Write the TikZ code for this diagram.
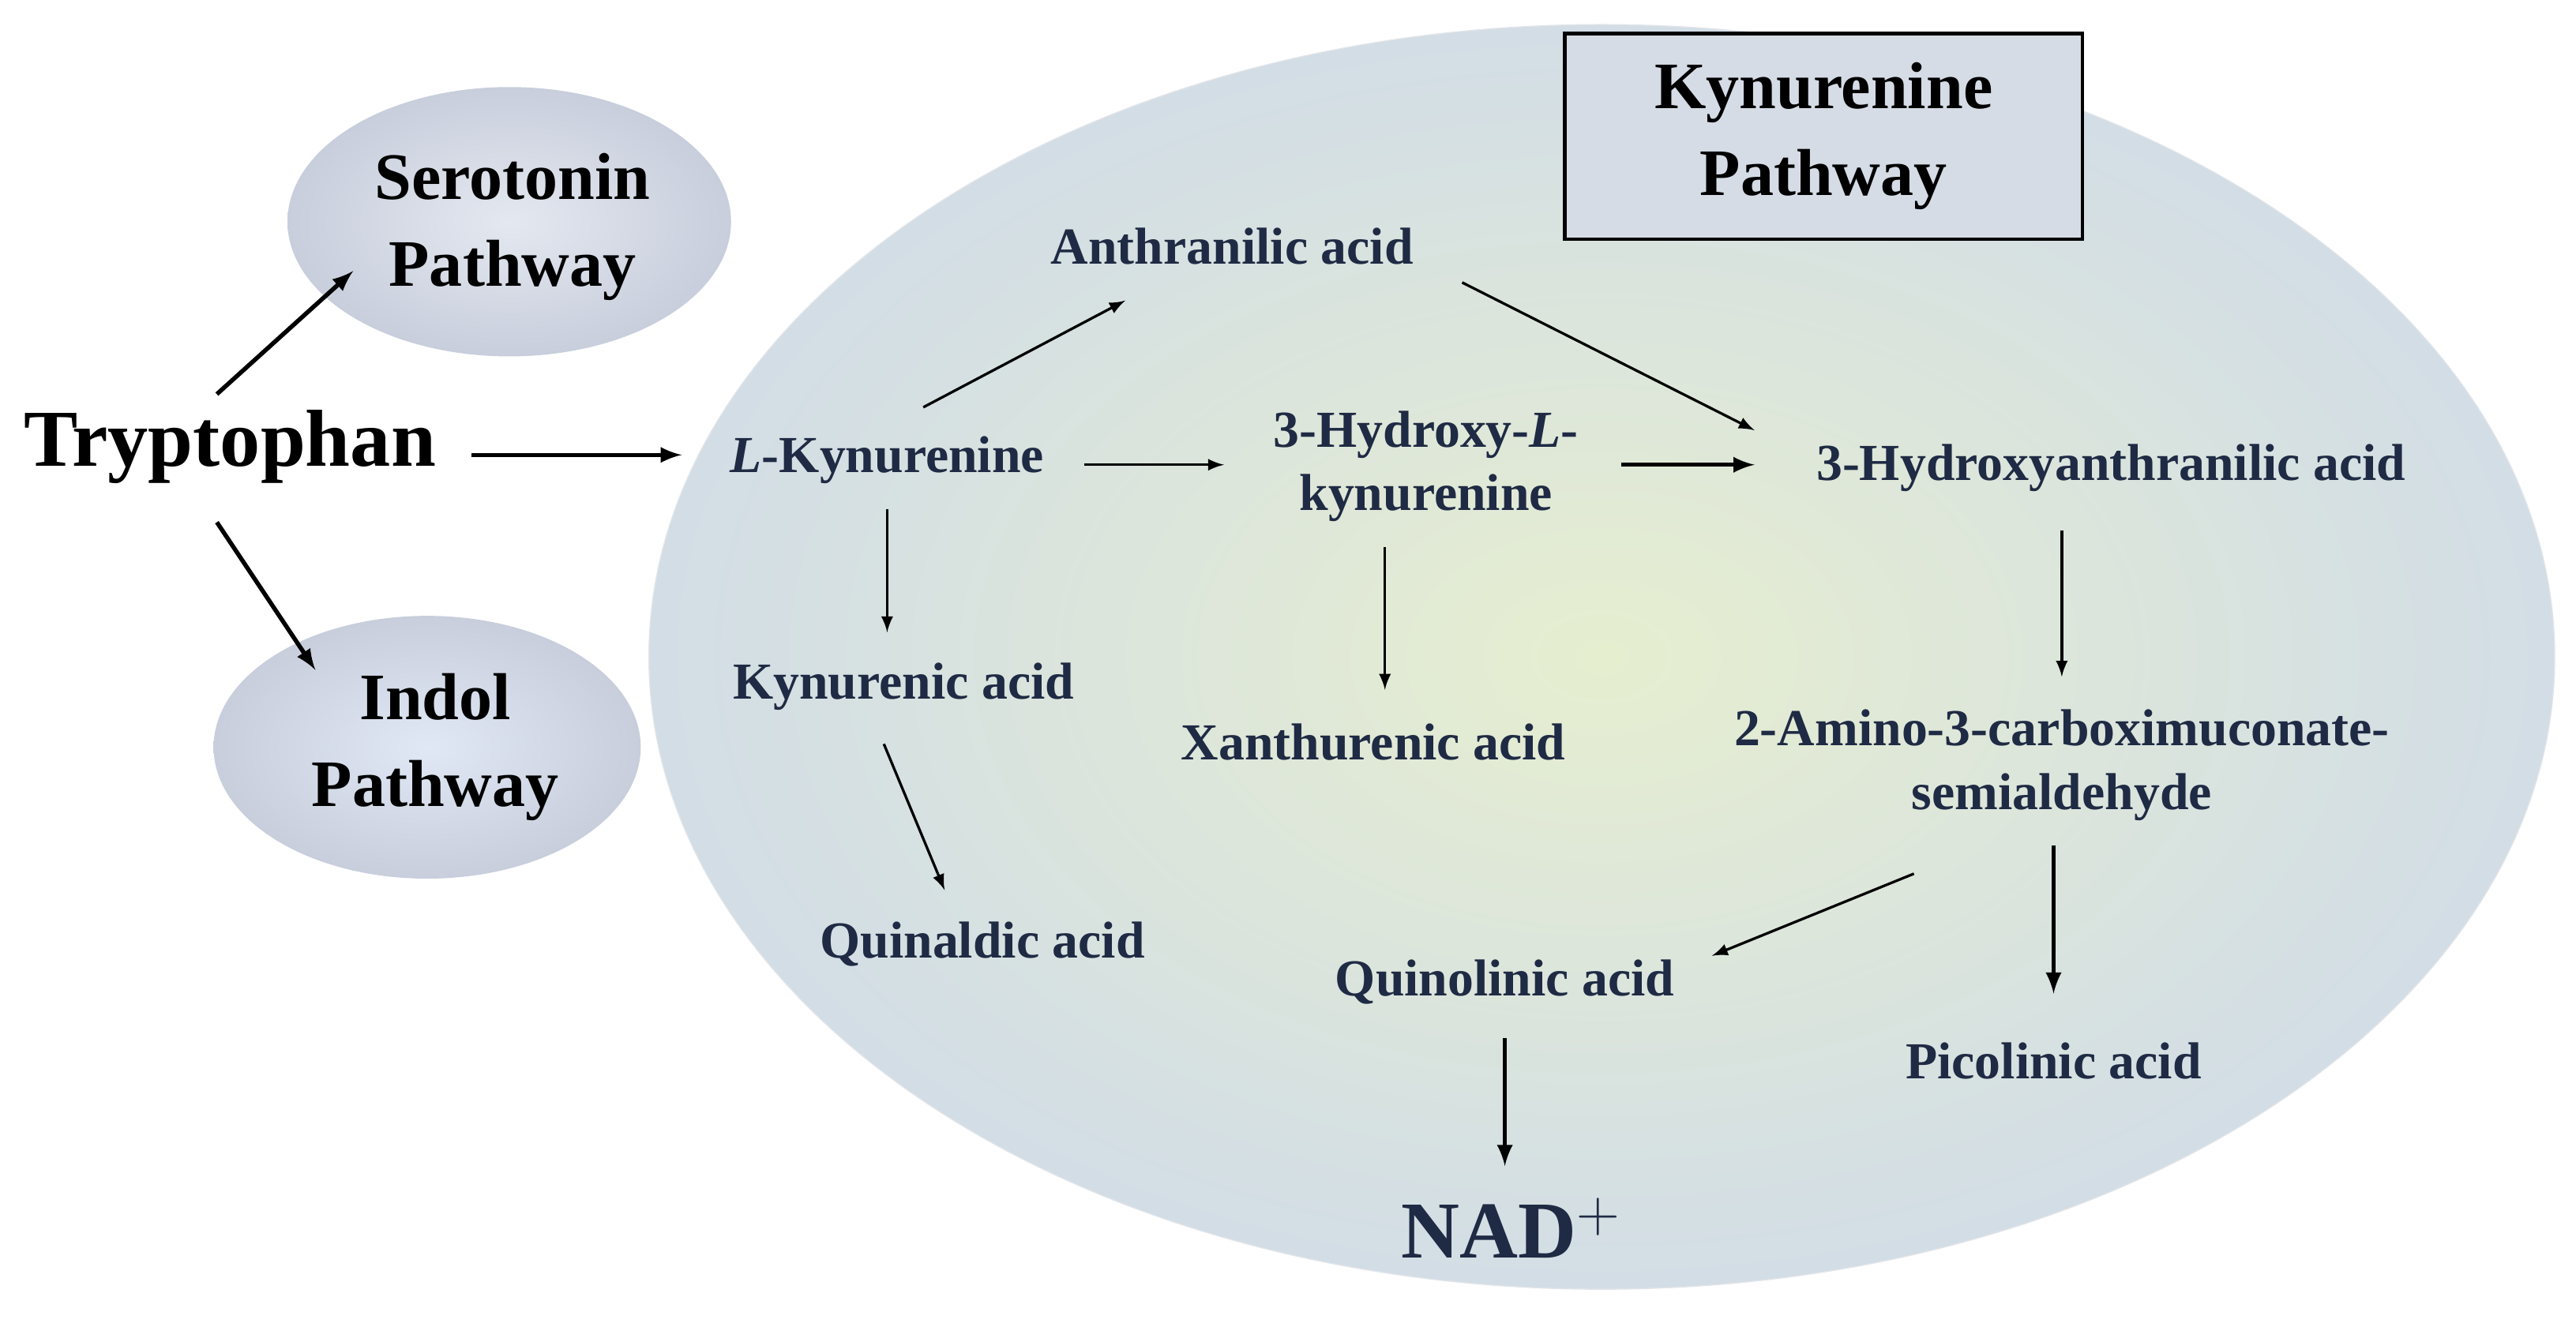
\documentclass[tikz,border=0pt]{standalone}
\usepackage{fontspec}
\setmainfont{Liberation Serif}
\definecolor{navy}{HTML}{1F2A44}
\begin{document}
\begin{tikzpicture}[x=0.02cm,y=-0.02cm,
 lab/.style={font=\bfseries\fontsize{18}{22}\selectfont,text=navy,align=center},
 big/.style={font=\bfseries\fontsize{23}{30}\selectfont,text=black,align=center},
 arr/.style={-latex,line width=0.9pt},
 arrb/.style={-latex,line width=1.5pt}]
\useasboundingbox (0,0) rectangle (1568,808);
\shade[inner color={rgb,255:red,230;green,238;blue,208},outer color={rgb,255:red,210;green,221;blue,230},draw={rgb,255:red,225;green,228;blue,232}] (975,400) ellipse [x radius=580,y radius=385];
\shade[inner color={rgb,255:red,228;green,232;blue,240},outer color={rgb,255:red,200;green,206;blue,220}] (310,135) ellipse [x radius=135,y radius=82];
\shade[inner color={rgb,255:red,225;green,232;blue,245},outer color={rgb,255:red,200;green,206;blue,220}] (260,455) ellipse [x radius=130,y radius=80];
\node[draw=black,line width=1.2pt,fill={rgb,255:red,214;green,220;blue,230},minimum width=315*0.02cm,minimum height=125*0.02cm,big] (kp) at (1110,83) {Kynurenine\\Pathway};
\node[big] (ser) at (312,138) {Serotonin\\Pathway};
\node[big] (ind) at (265,455) {Indol\\Pathway};
\node[font=\bfseries\fontsize{28}{30}\selectfont] (trp) at (140,272) {Tryptophan};
\node[lab] (lk) at (540,280) {\textit{L}-Kynurenine};
\node[lab] (an) at (750,150) {Anthranilic acid};
\node[lab] (hk) at (868,284) {3-Hydroxy-\textit{L}-\\kynurenine};
\node[lab] (haa) at (1285,285) {3-Hydroxyanthranilic acid};
\node[lab] (ka) at (550,418) {Kynurenic acid};
\node[lab] (xa) at (836,452) {Xanthurenic acid};
\node[lab] (qa) at (598,575) {Quinaldic acid};
\node[lab] (am) at (1255,466) {2-Amino-3-carboximuconate-\\semialdehyde};
\node[lab] (qu) at (916,598) {Quinolinic acid};
\node[lab] (pi) at (1250,646) {Picolinic acid};
\node[font=\bfseries\fontsize{28}{30}\selectfont,text=navy] (nad) at (920,748) {NAD$^{+}$};
\draw[arrb] (132,240) -- (215,165);
\draw[arrb] (132,318) -- (192,408);
\draw[arrb] (287,277) -- (415,277);
\draw[arr] (562,248) -- (685,183);
\draw[arr] (660,283) -- (745,283);
\draw[arr] (540,310) -- (540,385);
\draw[arr] (890,172) -- (1068,262);
\draw[arrb] (987,283) -- (1068,283);
\draw[arr] (843,333) -- (843,420);
\draw[arr] (538,453) -- (575,542);
\draw[arr] (1255,323) -- (1255,412);
\draw[arr] (1165,532) -- (1042,582);
\draw[arrb] (1250,515) -- (1250,605);
\draw[arrb] (916,632) -- (916,710);
\end{tikzpicture}
\end{document}
